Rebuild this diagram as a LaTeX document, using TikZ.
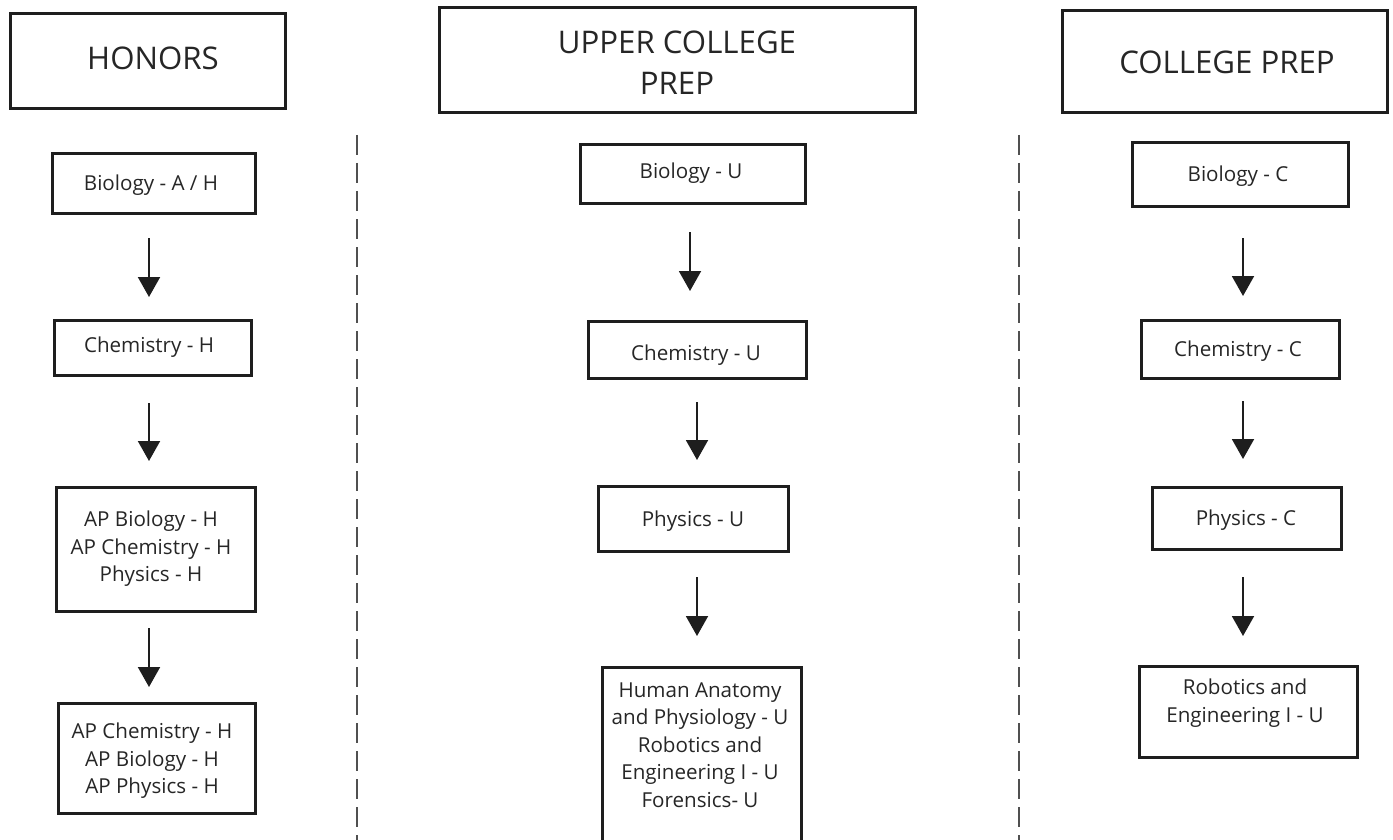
\documentclass[tikz,border=0pt]{standalone}
\usepackage{fontspec}
\setmainfont{Open Sans}
\usetikzlibrary{arrows.meta}
\definecolor{ink}{HTML}{1E1E1E}
\definecolor{txt}{HTML}{262626}
\definecolor{dash}{HTML}{505050}
\begin{document}
\begin{tikzpicture}[x=0.5pt,y=-0.5pt,
  box/.style={draw=ink,line width=1.5pt,rectangle,inner sep=0pt,anchor=north west},
  title/.style={text=txt,font=\fontsize{15.6}{20.5}\selectfont,align=center,inner sep=0pt},
  lbl/.style={text=txt,font=\fontsize{10.3}{13.75}\selectfont,align=center,inner sep=0pt},
  arr/.style={draw=ink,line width=1pt,-{Triangle[width=11pt,length=10pt]}},
  sep/.style={draw=dash,line width=0.8pt,dash pattern=on 10pt off 4pt}]
\useasboundingbox (0,0) rectangle (1393,840);
\begin{scope}
\clip (0,0) rectangle (1393,840);
% headers
\node[box,minimum width=137.5pt,minimum height=47.5pt] (hH) at (9,12) {};
\node[title] (tH) at (153,58) {HONORS};
\node[box,minimum width=238pt,minimum height=52.5pt] (hU) at (438,6) {};
\node[title] (tU) at (677,63) {UPPER COLLEGE\\PREP};
\node[box,minimum width=162.5pt,minimum height=51pt] (hC) at (1061,9) {};
\node[title] (tC) at (1227,62) {COLLEGE PREP};
% separators
\coordinate (s1a) at (357,135); \coordinate (s1b) at (357,845);
\coordinate (s2a) at (1019,135); \coordinate (s2b) at (1019,845);
\draw[sep] (s1a) -- (s1b);
\draw[sep] (s2a) -- (s2b);
% Honors column
\node[box,minimum width=101.5pt,minimum height=30pt] (h1) at (51,152) {};
\node[lbl] (h1t) at (151,185) {Biology - A / H};
\node[box,minimum width=98.5pt,minimum height=27.5pt] (h2) at (53,319) {};
\node[lbl] (h2t) at (149,347) {Chemistry - H};
\node[box,minimum width=99.5pt,minimum height=62pt] (h3) at (55,486) {};
\node[lbl] (h3t) at (151,549) {AP Biology - H\\AP Chemistry - H\\Physics - H};
\node[box,minimum width=98.5pt,minimum height=55pt] (h4) at (57,702) {};
\node[lbl] (h4t) at (152,761) {AP Chemistry - H\\AP Biology - H\\AP Physics - H};
\coordinate (ha1) at (149,238); \coordinate (hb1) at (149,297);
\coordinate (ha2) at (149,403); \coordinate (hb2) at (149,461);
\coordinate (ha3) at (149,628); \coordinate (hb3) at (149,687);
\draw[arr] (ha1) -- (hb1);
\draw[arr] (ha2) -- (hb2);
\draw[arr] (ha3) -- (hb3);
% Upper college prep column
\node[box,minimum width=112.5pt,minimum height=29.5pt] (u1) at (579,143) {};
\node[lbl] (u1t) at (691,173) {Biology - U};
\node[box,minimum width=109pt,minimum height=28.5pt] (u2) at (587,320) {};
\node[lbl] (u2t) at (696,355) {Chemistry - U};
\node[box,minimum width=95pt,minimum height=32.5pt] (u3) at (597,485) {};
\node[lbl] (u3t) at (693,521) {Physics - U};
\node[box,minimum width=99.5pt,minimum height=95pt] (u4) at (601,666) {};
\node[lbl] (u4t) at (700,745) {Human Anatomy\\and Physiology - U\\Robotics and\\Engineering I - U\\Forensics- U};
\coordinate (ua1) at (690,232); \coordinate (ub1) at (690,291);
\coordinate (ua2) at (697,402); \coordinate (ub2) at (697,460);
\coordinate (ua3) at (697,577); \coordinate (ub3) at (697,636);
\draw[arr] (ua1) -- (ub1);
\draw[arr] (ua2) -- (ub2);
\draw[arr] (ua3) -- (ub3);
% College prep column
\node[box,minimum width=108pt,minimum height=32pt] (c1) at (1131,141) {};
\node[lbl] (c1t) at (1238,176) {Biology - C};
\node[box,minimum width=99pt,minimum height=29pt] (c2) at (1140,319) {};
\node[lbl] (c2t) at (1238,351) {Chemistry - C};
\node[box,minimum width=94.5pt,minimum height=31pt] (c3) at (1151,486) {};
\node[lbl] (c3t) at (1246,520) {Physics - C};
\node[box,minimum width=109pt,minimum height=45.5pt] (c4) at (1138,665) {};
\node[lbl] (c4t) at (1245,703) {Robotics and\\Engineering I - U};
\coordinate (ca1) at (1243,238); \coordinate (cb1) at (1243,296);
\coordinate (ca2) at (1243,401); \coordinate (cb2) at (1243,459);
\coordinate (ca3) at (1243,577); \coordinate (cb3) at (1243,636);
\draw[arr] (ca1) -- (cb1);
\draw[arr] (ca2) -- (cb2);
\draw[arr] (ca3) -- (cb3);
\end{scope}
\end{tikzpicture}
\end{document}
